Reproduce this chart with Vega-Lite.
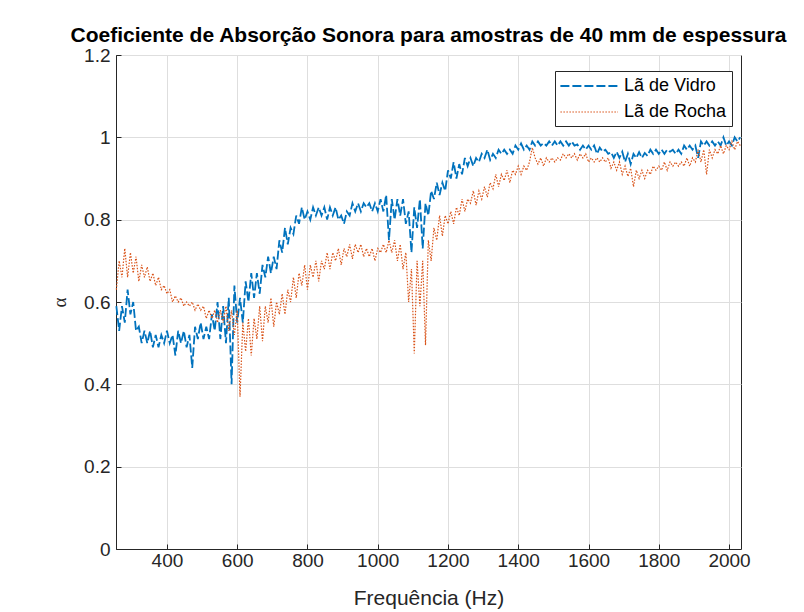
{
"$schema":"https://vega.github.io/schema/vega-lite/v6.json",
"width":625,"height":494,
"autosize":{"type":"none"},
"padding":{"left":116,"top":55,"right":63,"bottom":63},
"background":"white",
"config":{"view":{"stroke":"#262626","strokeWidth":1},"font":"Liberation Sans"},
"title":{"text":"Coeficiente de Absorção Sonora para amostras de 40 mm de espessura","fontSize":21,"fontWeight":"bold","font":"Liberation Sans","color":"#000000","anchor":"middle","offset":0},
"data":{"values":[
{"f":256,"v":0.59,"w":0.63},{"f":264,"v":0.53,"w":0.70},{"f":272,"v":0.59,"w":0.66},{"f":280,"v":0.55,"w":0.73},{"f":288,"v":0.63,"w":0.66},{"f":296,"v":0.57,"w":0.72},{"f":304,"v":0.60,"w":0.67},{"f":312,"v":0.53,"w":0.71},{"f":320,"v":0.54,"w":0.65},{"f":328,"v":0.50,"w":0.69},
{"f":336,"v":0.53,"w":0.66},{"f":344,"v":0.50,"w":0.685},{"f":352,"v":0.53,"w":0.65},{"f":360,"v":0.49,"w":0.67},{"f":368,"v":0.52,"w":0.64},{"f":376,"v":0.49,"w":0.66},{"f":384,"v":0.52,"w":0.63},{"f":392,"v":0.50,"w":0.64},{"f":400,"v":0.53,"w":0.62},{"f":408,"v":0.50,"w":0.63},
{"f":416,"v":0.52,"w":0.60},{"f":424,"v":0.47,"w":0.615},{"f":432,"v":0.53,"w":0.60},{"f":440,"v":0.50,"w":0.61},{"f":448,"v":0.53,"w":0.59},{"f":456,"v":0.49,"w":0.60},{"f":464,"v":0.52,"w":0.59},{"f":472,"v":0.44,"w":0.60},{"f":480,"v":0.54,"w":0.58},{"f":488,"v":0.51,"w":0.595},
{"f":496,"v":0.55,"w":0.58},{"f":504,"v":0.51,"w":0.59},{"f":512,"v":0.54,"w":0.56},{"f":520,"v":0.51,"w":0.58},{"f":528,"v":0.57,"w":0.56},{"f":536,"v":0.53,"w":0.58},{"f":544,"v":0.60,"w":0.55},{"f":552,"v":0.51,"w":0.58},{"f":560,"v":0.59,"w":0.55},{"f":568,"v":0.50,"w":0.59},
{"f":576,"v":0.61,"w":0.53},{"f":584,"v":0.40,"w":0.58},{"f":592,"v":0.64,"w":0.52},{"f":600,"v":0.55,"w":0.58},{"f":608,"v":0.61,"w":0.37},{"f":616,"v":0.55,"w":0.55},{"f":624,"v":0.65,"w":0.48},{"f":632,"v":0.60,"w":0.56},{"f":640,"v":0.67,"w":0.47},{"f":648,"v":0.61,"w":0.56},
{"f":656,"v":0.67,"w":0.51},{"f":664,"v":0.62,"w":0.59},{"f":672,"v":0.69,"w":0.505},{"f":680,"v":0.66,"w":0.59},{"f":688,"v":0.71,"w":0.55},{"f":696,"v":0.67,"w":0.61},{"f":704,"v":0.71,"w":0.54},{"f":712,"v":0.68,"w":0.60},{"f":720,"v":0.75,"w":0.57},{"f":728,"v":0.72,"w":0.62},
{"f":736,"v":0.78,"w":0.57},{"f":744,"v":0.74,"w":0.63},{"f":752,"v":0.78,"w":0.60},{"f":760,"v":0.765,"w":0.66},{"f":768,"v":0.81,"w":0.61},{"f":776,"v":0.79,"w":0.67},{"f":784,"v":0.83,"w":0.64},{"f":792,"v":0.80,"w":0.69},{"f":800,"v":0.82,"w":0.63},{"f":808,"v":0.80,"w":0.69},
{"f":816,"v":0.83,"w":0.66},{"f":824,"v":0.81,"w":0.70},{"f":832,"v":0.83,"w":0.65},{"f":840,"v":0.81,"w":0.70},{"f":848,"v":0.83,"w":0.68},{"f":856,"v":0.80,"w":0.72},{"f":864,"v":0.83,"w":0.68},{"f":872,"v":0.81,"w":0.72},{"f":880,"v":0.83,"w":0.70},{"f":888,"v":0.80,"w":0.73},
{"f":896,"v":0.81,"w":0.69},{"f":904,"v":0.79,"w":0.73},{"f":912,"v":0.82,"w":0.71},{"f":920,"v":0.81,"w":0.74},{"f":928,"v":0.84,"w":0.705},{"f":936,"v":0.82,"w":0.74},{"f":944,"v":0.84,"w":0.72},{"f":952,"v":0.82,"w":0.74},{"f":960,"v":0.84,"w":0.71},{"f":968,"v":0.83,"w":0.73},
{"f":976,"v":0.84,"w":0.71},{"f":984,"v":0.82,"w":0.73},{"f":992,"v":0.84,"w":0.70},{"f":1000,"v":0.82,"w":0.73},{"f":1008,"v":0.85,"w":0.72},{"f":1016,"v":0.82,"w":0.74},{"f":1024,"v":0.86,"w":0.72},{"f":1032,"v":0.75,"w":0.75},{"f":1040,"v":0.85,"w":0.72},{"f":1048,"v":0.80,"w":0.75},
{"f":1056,"v":0.85,"w":0.70},{"f":1064,"v":0.81,"w":0.74},{"f":1072,"v":0.85,"w":0.68},{"f":1080,"v":0.79,"w":0.72},{"f":1088,"v":0.82,"w":0.60},{"f":1096,"v":0.72,"w":0.68},{"f":1104,"v":0.83,"w":0.475},{"f":1112,"v":0.78,"w":0.70},{"f":1120,"v":0.85,"w":0.59},{"f":1128,"v":0.73,"w":0.70},
{"f":1136,"v":0.84,"w":0.495},{"f":1144,"v":0.81,"w":0.75},{"f":1152,"v":0.87,"w":0.70},{"f":1160,"v":0.85,"w":0.78},{"f":1168,"v":0.89,"w":0.75},{"f":1176,"v":0.86,"w":0.81},{"f":1184,"v":0.89,"w":0.76},{"f":1192,"v":0.87,"w":0.81},{"f":1200,"v":0.92,"w":0.79},{"f":1208,"v":0.90,"w":0.82},
{"f":1216,"v":0.94,"w":0.79},{"f":1224,"v":0.90,"w":0.83},{"f":1232,"v":0.935,"w":0.81},{"f":1240,"v":0.91,"w":0.85},{"f":1248,"v":0.95,"w":0.82},{"f":1256,"v":0.93,"w":0.85},{"f":1264,"v":0.95,"w":0.84},{"f":1272,"v":0.93,"w":0.87},{"f":1280,"v":0.95,"w":0.835},{"f":1288,"v":0.94,"w":0.87},
{"f":1296,"v":0.96,"w":0.85},{"f":1304,"v":0.95,"w":0.88},{"f":1312,"v":0.97,"w":0.855},{"f":1320,"v":0.945,"w":0.89},{"f":1328,"v":0.96,"w":0.875},{"f":1336,"v":0.95,"w":0.91},{"f":1344,"v":0.97,"w":0.88},{"f":1352,"v":0.96,"w":0.91},{"f":1360,"v":0.97,"w":0.895},{"f":1368,"v":0.96,"w":0.92},
{"f":1376,"v":0.97,"w":0.89},{"f":1384,"v":0.96,"w":0.92},{"f":1392,"v":0.98,"w":0.91},{"f":1400,"v":0.97,"w":0.93},{"f":1408,"v":0.985,"w":0.91},{"f":1416,"v":0.97,"w":0.93},{"f":1424,"v":0.98,"w":0.92},{"f":1432,"v":0.97,"w":0.94},{"f":1440,"v":0.99,"w":0.975},{"f":1448,"v":0.98,"w":0.95},
{"f":1456,"v":0.99,"w":0.935},{"f":1464,"v":0.98,"w":0.95},{"f":1472,"v":0.986,"w":0.93},{"f":1480,"v":0.98,"w":0.95},{"f":1488,"v":0.99,"w":0.94},{"f":1496,"v":0.98,"w":0.95},{"f":1504,"v":0.99,"w":0.94},{"f":1512,"v":0.98,"w":0.95},{"f":1520,"v":0.99,"w":0.945},{"f":1528,"v":0.98,"w":0.96},
{"f":1536,"v":0.99,"w":0.95},{"f":1544,"v":0.98,"w":0.96},{"f":1552,"v":0.99,"w":0.95},{"f":1560,"v":0.98,"w":0.96},{"f":1568,"v":0.983,"w":0.945},{"f":1576,"v":0.97,"w":0.96},{"f":1584,"v":0.98,"w":0.95},{"f":1592,"v":0.97,"w":0.96},{"f":1600,"v":0.98,"w":0.94},{"f":1608,"v":0.97,"w":0.95},
{"f":1616,"v":0.98,"w":0.94},{"f":1624,"v":0.96,"w":0.95},{"f":1632,"v":0.975,"w":0.94},{"f":1640,"v":0.965,"w":0.95},{"f":1648,"v":0.97,"w":0.94},{"f":1656,"v":0.96,"w":0.95},{"f":1664,"v":0.964,"w":0.925},{"f":1672,"v":0.95,"w":0.94},{"f":1680,"v":0.965,"w":0.92},{"f":1688,"v":0.95,"w":0.94},
{"f":1696,"v":0.965,"w":0.91},{"f":1704,"v":0.94,"w":0.93},{"f":1712,"v":0.96,"w":0.905},{"f":1720,"v":0.935,"w":0.925},{"f":1728,"v":0.96,"w":0.88},{"f":1736,"v":0.95,"w":0.92},{"f":1744,"v":0.964,"w":0.90},{"f":1752,"v":0.95,"w":0.92},{"f":1760,"v":0.962,"w":0.90},{"f":1768,"v":0.955,"w":0.92},
{"f":1776,"v":0.97,"w":0.91},{"f":1784,"v":0.96,"w":0.93},{"f":1792,"v":0.97,"w":0.92},{"f":1800,"v":0.96,"w":0.93},{"f":1808,"v":0.97,"w":0.92},{"f":1816,"v":0.96,"w":0.94},{"f":1824,"v":0.97,"w":0.92},{"f":1832,"v":0.965,"w":0.94},{"f":1840,"v":0.97,"w":0.93},{"f":1848,"v":0.96,"w":0.94},
{"f":1856,"v":0.97,"w":0.93},{"f":1864,"v":0.96,"w":0.94},{"f":1872,"v":0.98,"w":0.93},{"f":1880,"v":0.97,"w":0.95},{"f":1888,"v":0.98,"w":0.93},{"f":1896,"v":0.97,"w":0.95},{"f":1904,"v":0.98,"w":0.94},{"f":1912,"v":0.95,"w":0.97},{"f":1920,"v":0.99,"w":0.94},{"f":1928,"v":0.98,"w":0.97},
{"f":1936,"v":0.99,"w":0.91},{"f":1944,"v":0.98,"w":0.97},{"f":1952,"v":0.99,"w":0.95},{"f":1960,"v":0.98,"w":0.97},{"f":1968,"v":0.99,"w":0.96},{"f":1976,"v":0.98,"w":0.98},{"f":1984,"v":1.0,"w":0.96},{"f":1992,"v":0.98,"w":0.98},{"f":2000,"v":0.99,"w":0.97},{"f":2008,"v":0.98,"w":0.99},
{"f":2016,"v":1.0,"w":0.97},{"f":2024,"v":0.99,"w":0.99},{"f":2032,"v":1.0,"w":0.98}
]},
"transform":[{"fold":["v","w"],"as":["serie","alpha"]}],
"mark":{"type":"line","interpolate":"linear"},
"encoding":{
"x":{"field":"f","type":"quantitative","scale":{"domain":[255,2034],"nice":false,"zero":false},
 "axis":{"values":[400,600,800,1000,1200,1400,1600,1800,2000],"format":"d","title":"Frequência (Hz)","titleFontSize":21,"titleFontWeight":"normal","titleColor":"#262626","titlePadding":17,"labelFontSize":19,"labelColor":"#262626","labelPadding":7,"tickSize":-5,"tickColor":"#262626","domainColor":"#262626","grid":true,"gridColor":"#dedede"}},
"y":{"field":"alpha","type":"quantitative","scale":{"domain":[0,1.2],"nice":false,"zero":true},
 "axis":{"values":[0,0.2,0.4,0.6,0.8,1,1.2],"format":"~g","title":"α","titleFont":"Liberation Serif","titleFontSize":19,"titleFontWeight":"normal","titleColor":"#262626","titlePadding":14,"labelFontSize":19,"labelColor":"#262626","labelPadding":11,"tickSize":-5,"tickColor":"#262626","domainColor":"#262626","grid":true,"gridColor":"#dedede"}},
"color":{"field":"serie","type":"nominal","scale":{"domain":["v","w"],"range":["#0072BD","#D95319"]},
 "legend":{"orient":"none","legendX":439,"legendY":16,"title":null,"strokeColor":"#262626","fillColor":"white","padding":5,"symbolType":"M-5.4,0H1","symbolSize":324,"symbolOffset":39,"symbolStrokeWidth":1.3,"labelFontSize":18,"labelColor":"#000000","labelOffset":5,"rowPadding":7,"labelExpr":"datum.label == 'v' ? 'Lã de Vidro' : 'Lã de Rocha'"}},
"strokeDash":{"field":"serie","type":"nominal","scale":{"domain":["v","w"],"range":[[9,3],[1.5,1.5]]}},
"strokeWidth":{"field":"serie","type":"nominal","scale":{"domain":["v","w"],"range":[1.8,1.2]},"legend":null}
}
}
